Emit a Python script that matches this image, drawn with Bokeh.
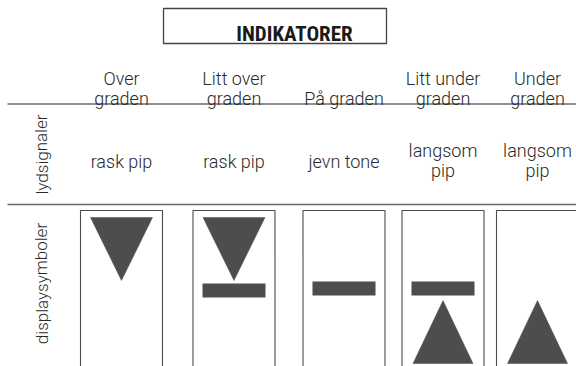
from bokeh.plotting import figure
from bokeh.models import Range1d
from bokeh.core.properties import value
from bokeh.embed import file_html
from bokeh.resources import INLINE

# ---------------- data ----------------
title = "INDIKATORER"
row_labels = ["lydsignaler", "displaysymboler"]
indicators = ["Over\ngraden", "Litt over\ngraden", "På graden", "Litt under\ngraden", "Under\ngraden"]
signals = ["rask pip", "rask pip", "jevn tone", "langsom\npip", "langsom\npip"]
down_arrow = [1, 1, 0, 0, 0]   # "too high" triangle pointing down
level_bar = [0, 1, 1, 1, 0]    # level bar
up_arrow = [0, 0, 0, 1, 1]     # "too low" triangle pointing up

# ---------------- layout (page pixels) ----------------
W, H = 576, 366
col_x = [121, 233.5, 343.5, 442.5, 537]
box_w = 82
box_top, box_bottom = 210, 420
line_ys = [103.5, 204]
head_base = [78, 98]
sig_base_single = 161
sig_base_multi = [150, 170]
tri_half = 31
down_top, down_apex = 217, 280
bar_half, bar_h = 31.5, 14
bar_top_with_arrow, bar_top_plain = 283, 281
up_apex, up_base = 300, 363

FONT = value("'Roboto Light', 'Lato Light', 'Liberation Sans'")
TXT = "#2a2a2a"
DARK = "#4d4d4d"

p = figure(width=W, height=H, x_range=Range1d(0, W), y_range=Range1d(H, 0),
           output_backend="svg", toolbar_location=None, min_border=0,
           x_axis_location=None, y_axis_location=None)
p.grid.visible = False
p.outline_line_color = None
p.background_fill_color = "white"
p.border_fill_color = "white"

# title box and text
p.quad(left=[163], right=[386], top=[8], bottom=[43], fill_color=None,
       line_color="#444444", line_width=1.3)
p.text(x=[294], y=[33], text=[title],
       text_font=value("'Liberation Sans Narrow', 'Roboto Condensed', 'Liberation Sans'"),
       text_font_style="bold", text_font_size="21px", text_color="#1a1a1a",
       text_align="center", text_baseline="alphabetic")

# separator lines
p.segment(x0=[7] * len(line_ys), x1=[600] * len(line_ys), y0=line_ys, y1=line_ys,
          line_color="#6a6a6a", line_width=1.6)

# column headers
hx, hy, ht = [], [], []
for cx, lab in zip(col_x, indicators):
    lines = lab.split("\n")
    bases = head_base[-len(lines):]
    for ln, b in zip(lines, bases):
        hx.append(cx); hy.append(b); ht.append(ln)
p.text(x=hx, y=hy, text=ht, text_font=FONT, text_font_size="18px", text_color=TXT,
       text_align="center", text_baseline="alphabetic")

# sound signals
sx, sy, st = [], [], []
for cx, lab in zip(col_x, signals):
    lines = lab.split("\n")
    bases = [sig_base_single] if len(lines) == 1 else sig_base_multi
    for ln, b in zip(lines, bases):
        sx.append(cx); sy.append(b); st.append(ln)
p.text(x=sx, y=sy, text=st, text_font=FONT, text_font_size="18px", text_color=TXT,
       text_align="center", text_baseline="alphabetic")

# row labels (rotated)
p.text(x=[41, 41], y=[154, 283], text=row_labels, angle=[1.5708, 1.5708],
       text_font=FONT, text_font_size="17px", text_color=TXT,
       text_align="center", text_baseline="alphabetic")

# display boxes
p.quad(left=[c - box_w / 2 for c in col_x], right=[c + box_w / 2 for c in col_x],
       top=[box_top] * len(col_x), bottom=[box_bottom] * len(col_x),
       fill_color=None, line_color="#4a4a4a", line_width=1.1)

# symbols
dxs, dys, uxs, uys = [], [], [], []
bl, br, bt, bb = [], [], [], []
for cx, d, b, u in zip(col_x, down_arrow, level_bar, up_arrow):
    if d:
        dxs.append([cx - tri_half, cx + tri_half, cx])
        dys.append([down_top, down_top, down_apex])
    if u:
        uxs.append([cx - tri_half + 1, cx + tri_half - 1, cx])
        uys.append([up_base, up_base, up_apex])
    if b:
        top = bar_top_with_arrow if d else bar_top_plain
        bl.append(cx - bar_half); br.append(cx + bar_half)
        bt.append(top); bb.append(top + bar_h)
p.patches(xs=dxs + uxs, ys=dys + uys, fill_color=DARK, line_color=DARK, line_width=0.5)
p.quad(left=bl, right=br, top=bt, bottom=bb, fill_color=DARK, line_color=None)

open("out.html", "w").write(file_html(p, INLINE))
